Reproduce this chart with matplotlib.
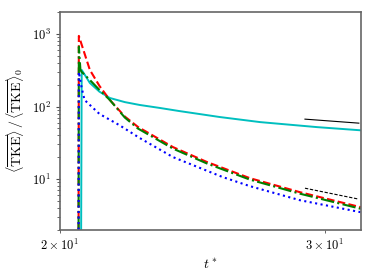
import matplotlib
matplotlib.use("Agg")
import matplotlib.pyplot as plt

plt.rcParams['font.family'] = 'serif'
plt.rcParams['font.serif'] = ['cmr10', 'DejaVu Serif']
plt.rcParams['mathtext.fontset'] = 'cm'
plt.rcParams['axes.formatter.use_mathtext'] = True

# curves: time and TKE ratio
t_red = [20.58, 20.59, 20.94, 21.25, 21.59, 22.09, 22.54, 23.78, 25.05, 26.75, 28.87, 31.7]
v_red = [1, 938, 319, 192, 123, 72.8, 52.3, 27.6, 17.2, 10.3, 6.62, 4.1]

t_green = [20.58, 20.59, 20.64, 20.68, 20.94, 21.25, 21.59, 22.09, 22.54, 23.78, 25.05, 26.75, 28.87, 31.7]
v_green = [1, 668, 319, 299, 232, 169, 123, 70.5, 49.7, 26.3, 16.4, 9.84, 6.31, 3.9]

t_blue = [20.58, 20.59, 20.68, 20.77, 21.25, 21.90, 22.60, 23.78, 25.65, 26.75, 28.87, 31.7]
v_blue = [1, 299, 180, 123, 79, 55.6, 36.8, 20.1, 10.7, 8.0, 5.13, 3.5]

t_cyan = [20.66, 20.68, 20.94, 21.25, 21.59, 22.09, 22.60, 23.3, 24.0, 25.55, 27.17, 29.65, 31.7]
v_cyan = [1, 319, 211, 160, 131, 115, 105, 95.6, 86.7, 71.6, 61, 52, 47]

# reference slopes
t_ref = [29.1, 31.6]
v_ref_solid = [67, 59]
v_ref_dash = [7.5, 5.3]

fig = plt.figure(figsize=(3.74, 2.80), dpi=100)
ax = fig.add_axes([0.160, 0.179, 0.805, 0.778])

ax.plot(t_cyan, v_cyan, color='c', lw=1.4)
ax.plot(t_red, v_red, color='r', ls='--', lw=1.5)
ax.plot(t_green, v_green, color='g', ls='-.', lw=1.5)
ax.plot(t_blue, v_blue, color='b', ls=':', lw=1.5)
ax.plot(t_ref, v_ref_solid, color='k', lw=0.8)
ax.plot(t_ref, v_ref_dash, color='k', ls='--', lw=0.8, dashes=(3, 1.5))

ax.set_xscale('log')
ax.set_yscale('log')
ax.set_xlim(20, 31.7)
ax.set_ylim(2, 2000)

for s in ax.spines.values():
    s.set_color('0.4')
    s.set_linewidth(1.2)
ax.tick_params(which='both', labelsize=9, color='0.3')
ax.tick_params(which='major', length=3)
ax.tick_params(which='minor', length=2)

ax.set_xlabel(r'$t^*$', fontsize=10)
ax.set_ylabel(r'$\langle\overline{\mathrm{TKE}}\rangle\,/\,\langle\overline{\mathrm{TKE}}\rangle_0$', fontsize=10)

fig.savefig('out.png', dpi=100)
